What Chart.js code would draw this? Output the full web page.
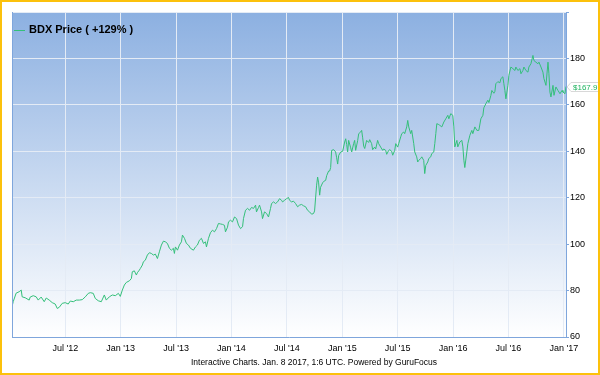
<!DOCTYPE html>
<html>
<head>
<meta charset="utf-8">
<script src="https://cdn.jsdelivr.net/npm/chart.js@4/dist/chart.umd.min.js"></script>
<style>
  html, body { margin: 0; padding: 0; background: #fff; }
  #wrap { position: relative; width: 600px; height: 375px; }
  #frame { position: absolute; left: 0; top: 0; width: 600px; height: 375px;
           box-sizing: border-box; border: 2px solid #fcc10c; pointer-events: none; }
</style>
</head>
<body>
<div id="wrap">
  <canvas id="chart" width="600" height="375"></canvas>
  <div id="frame"></div>
</div>
<script>
// months since Jan 1 2012
const months = [
  0.25, 0.36, 0.68, 1.01, 1.23, 1.33, 1.66, 2.09, 2.20, 2.53, 2.85, 3.07, 3.39, 3.72, 3.94, 4.26,
  4.59, 4.91, 5.13, 5.35, 5.67, 6.00, 6.32, 6.54, 6.87, 7.19, 7.52, 7.84, 8.17, 8.49, 8.71, 9.03,
  9.25, 9.58, 9.90, 10.23, 10.44, 10.77, 11.10, 11.42, 11.75, 11.96, 12.18, 12.40, 12.61, 12.94,
  13.16, 13.26, 13.48, 13.70, 13.81, 14.02, 14.13, 14.35, 14.46, 14.67, 14.89, 15.11, 15.32, 15.54,
  15.76, 15.98, 16.19, 16.41, 16.63, 16.84, 17.06, 17.28, 17.49, 17.71, 17.82, 17.93, 18.15, 18.36,
  18.58, 18.69, 18.91, 19.12, 19.34, 19.56, 19.88, 20.10, 20.31, 20.53, 20.75, 20.97, 21.18, 21.29,
  21.51, 21.72, 21.94, 22.16, 22.38, 22.59, 22.81, 23.03, 23.24, 23.35, 23.57, 23.68, 23.89, 24.11,
  24.33, 24.55, 24.76, 24.98, 25.20, 25.30, 25.52, 25.74, 25.96, 26.17, 26.39, 26.61, 26.71, 26.93,
  27.04, 27.26, 27.36, 27.58, 27.80, 28.01, 28.23, 28.34, 28.56, 28.77, 28.99, 29.21, 29.42, 29.53,
  29.75, 29.97, 30.18, 30.29, 30.51, 30.72, 30.94, 31.16, 31.37, 31.59, 31.81, 32.03, 32.24, 32.46,
  32.68, 32.89, 33.00, 33.22, 33.33, 33.44, 33.55, 33.65, 33.87, 33.98, 34.20, 34.31, 34.52, 34.63,
  34.74, 34.85, 35.07, 35.28, 35.39, 35.50, 35.61, 35.83, 36.04, 36.26, 36.37, 36.48, 36.58, 36.69,
  36.91, 37.02, 37.23, 37.34, 37.45, 37.67, 37.78, 37.99, 38.10, 38.21, 38.32, 38.43, 38.64, 38.86,
  38.97, 39.18, 39.29, 39.51, 39.62, 39.83, 39.94, 40.16, 40.38, 40.48, 40.70, 40.81, 41.03, 41.14,
  41.35, 41.46, 41.68, 41.79, 42.00, 42.11, 42.33, 42.44, 42.65, 42.76, 42.98, 43.09, 43.20, 43.41,
  43.52, 43.74, 43.85, 44.06, 44.17, 44.28, 44.50, 44.61, 44.82, 44.93, 45.04, 45.26, 45.37, 45.58,
  45.69, 45.91, 46.02, 46.13, 46.24, 46.45, 46.56, 46.78, 47.00, 47.21, 47.43, 47.54, 47.75, 47.97,
  48.08, 48.19, 48.41, 48.51, 48.73, 48.95, 49.06, 49.17, 49.27, 49.49, 49.60, 49.82, 50.03, 50.14,
  50.36, 50.58, 50.79, 51.01, 51.23, 51.33, 51.55, 51.77, 51.88, 52.09, 52.20, 52.42, 52.53, 52.63,
  52.85, 53.07, 53.18, 53.39, 53.50, 53.61, 53.72, 53.94, 54.04, 54.26, 54.48, 54.70, 54.80, 55.02,
  55.24, 55.35, 55.56, 55.67, 55.89, 56.11, 56.21, 56.43, 56.65, 56.76, 56.97, 57.19, 57.30, 57.52,
  57.73, 57.84, 58.06, 58.28, 58.38, 58.49, 58.60, 58.82, 58.93, 59.14, 59.36, 59.58, 59.80, 59.90,
  60.12, 60.23
];

// BDX close price, USD
const price = [
  73.3, 75.2, 78.9, 79.5, 80.2, 77.3, 76.9, 75.9, 77.2, 77.8, 77.3, 75.9, 77.2, 75.2, 76.8, 75.9,
  74.8, 74.2, 72.3, 72.8, 74.5, 74.8, 74.2, 75.5, 75.2, 75.9, 75.9, 76.1, 77.3, 78.8, 79.1, 78.8,
  76.6, 75.6, 75.2, 78.1, 75.9, 77.3, 78.1, 77.8, 78.8, 77.5, 80.2, 82.4, 83.5, 84.2,
  85.2, 88.1, 88.5, 86.7, 87.7, 88.8, 89.5, 91.0, 92.4, 93.1, 95.3, 96.3, 96.0, 95.3,
  95.7, 93.8, 96.7, 99.6, 101.3, 101.0, 100.3, 98.2, 97.4, 98.2, 96.0, 98.8, 97.4, 99.6,
  101.0, 103.9, 102.5, 100.3, 99.6, 98.2, 97.4, 98.8, 99.6, 101.7, 102.5, 100.3, 101.0, 98.8,
  102.5, 104.9, 106.0, 105.3, 106.7, 108.9, 108.7, 108.5, 108.1, 105.3, 107.3, 109.6, 110.3, 109.6,
  111.7, 111.0, 108.2, 106.7, 107.5, 111.0, 114.6, 115.4, 114.6, 115.8, 115.4, 116.8, 113.9, 115.8,
  116.8, 113.9, 111.0, 113.9, 113.2, 111.7, 115.4, 117.5, 118.2, 117.5, 118.2, 119.6, 118.9, 118.2,
  118.9, 119.6, 120.1, 118.9, 118.2, 118.5, 117.5, 116.1, 116.8, 117.1, 116.5, 116.1, 114.6, 113.9,
  112.9, 113.2, 114.3, 125.4, 128.9, 126.4, 121.1, 124.5, 126.4, 127.0, 127.5, 129.5, 131.5, 131.5,
  133.0, 140.4, 140.7, 139.7, 137.2, 134.5, 138.2, 139.7, 140.0, 144.0, 145.4, 142.9, 139.7, 144.7,
  141.5, 139.7, 143.3, 144.7, 140.4, 144.7, 147.6, 148.3, 149.0, 145.8, 142.2, 141.2, 144.7, 143.8,
  145.0, 143.3, 140.7, 141.8, 141.0, 144.7, 143.3, 141.8, 140.4, 141.0, 140.4, 138.7, 140.4, 140.7,
  140.0, 138.3, 140.4, 143.3, 141.8, 143.3, 146.2, 147.6, 148.3, 147.6, 150.5, 153.3, 150.5, 147.6,
  149.0, 143.3, 139.7, 137.6, 135.4, 136.1, 136.9, 137.6, 136.1, 130.4, 133.9, 135.4, 136.9, 137.6,
  139.0, 139.7, 143.3, 147.6, 151.9, 151.5, 151.2, 150.5, 152.6, 154.0, 155.5, 154.0, 156.2, 155.5,
  150.5, 141.9, 144.7, 141.9, 144.0, 144.7, 141.9, 136.1, 133.0, 139.7, 143.3, 146.9, 149.0, 147.6,
  150.5, 149.0, 149.0, 154.0, 155.5, 158.7, 160.5, 162.0, 161.0, 164.0, 166.2, 165.0, 165.8, 169.1,
  170.0, 169.5, 171.3, 172.1, 169.1, 166.2, 162.6, 168.4, 172.7, 176.3, 175.6, 174.8, 176.3, 174.8,
  175.6, 173.4, 174.8, 176.3, 174.8, 174.1, 176.3, 177.7, 181.3, 179.1, 178.4, 177.7, 178.4, 176.3,
  174.1, 171.3, 168.4, 178.4, 173.4, 165.5, 163.4, 168.4, 164.1, 167.7, 166.2, 164.8, 166.2, 165.5,
  164.8, 167.9
];

const tickMonths = [6, 12, 18, 24, 30, 36, 42, 48, 54, 60];
const tickLabels = ["Jul '12", "Jan '13", "Jul '13", "Jan '14", "Jul '14", "Jan '15", "Jul '15", "Jan '16", "Jul '16", "Jan '17"];
const seriesLabel = 'BDX Price ( +129% )';
const footerText = 'Interactive Charts. Jan. 8 2017, 1:6 UTC. Powered by GuruFocus';

const FONT = '"Liberation Sans", Arial, Helvetica, sans-serif';
const LINE = '#34c07a';
const AXIS = '#7fa6dc';
const GRID = '#e4ebf5';

// gradient behind the plot, left edge line, legend, last price tag, footer
const decor = {
  id: 'decor',
  beforeDraw(chart) {
    const { ctx, chartArea: a } = chart;
    const g = ctx.createLinearGradient(0, a.top, 0, a.bottom);
    g.addColorStop(0, '#8cb0e1');
    g.addColorStop(1, '#ffffff');
    ctx.save();
    ctx.fillStyle = g;
    ctx.fillRect(a.left, a.top, a.right - a.left, a.bottom - a.top);
    ctx.restore();
  },
  afterDraw(chart) {
    const { ctx, chartArea: a } = chart;
    ctx.save();
    // left border
    ctx.strokeStyle = AXIS;
    ctx.lineWidth = 1;
    ctx.beginPath();
    ctx.moveTo(a.left + 0.5, a.top);
    ctx.lineTo(a.left + 0.5, a.bottom);
    ctx.stroke();

    // legend
    ctx.strokeStyle = LINE;
    ctx.beginPath();
    ctx.moveTo(14, 30.5);
    ctx.lineTo(25, 30.5);
    ctx.stroke();
    ctx.fillStyle = '#000';
    ctx.font = 'bold 11px ' + FONT;
    ctx.textBaseline = 'middle';
    ctx.fillText(seriesLabel, 29, 30);

    // last price tag
    const last = price[price.length - 1];
    const y = Math.round(chart.scales.y.getPixelForValue(last));
    const txt = '$' + last.toFixed(1);
    ctx.font = '8px ' + FONT;
    const w = ctx.measureText(txt).width + 4;
    const x0 = a.right + 5;
    ctx.fillStyle = '#fff';
    ctx.strokeStyle = '#d8d8d8';
    ctx.beginPath();
    ctx.moveTo(a.right + 1, y);
    ctx.lineTo(x0, y - 4.5);
    ctx.lineTo(x0 + w, y - 4.5);
    ctx.lineTo(x0 + w, y + 4.5);
    ctx.lineTo(x0, y + 4.5);
    ctx.closePath();
    ctx.fill();
    ctx.stroke();
    ctx.fillStyle = '#1fb35f';
    ctx.fillText(txt, x0 + 2, y + 0.5);

    // footer
    ctx.fillStyle = '#000';
    ctx.font = '8.5px ' + FONT;
    ctx.textAlign = 'center';
    ctx.fillText(footerText, 314, 363);
    ctx.restore();
  }
};

new Chart(document.getElementById('chart'), {
  type: 'line',
  data: {
    datasets: [{
      label: seriesLabel,
      data: months.map((m, i) => ({ x: m, y: price[i] })),
      borderColor: LINE,
      borderWidth: 1,
      pointRadius: 0,
      tension: 0,
      fill: false
    }]
  },
  options: {
    responsive: false,
    animation: false,
    layout: { padding: { left: 12, top: 12, right: 0, bottom: 18 } },
    plugins: { legend: { display: false }, tooltip: { enabled: false } },
    scales: {
      x: {
        type: 'linear',
        min: 0.23,
        max: 60.23,
        afterBuildTicks: s => { s.ticks = tickMonths.map(v => ({ value: v })); },
        afterFit: s => { s.height = 20; },
        grid: { color: GRID, drawTicks: false },
        border: { color: AXIS },
        ticks: {
          padding: 6,
          maxRotation: 0,
          autoSkip: false,
          color: '#000',
          font: { family: FONT, size: 9 },
          callback: v => tickLabels[tickMonths.indexOf(v)]
        }
      },
      y: {
        position: 'right',
        min: 60,
        max: 200,
        afterFit: s => { s.width = 34; },
        grid: { color: GRID, tickColor: AXIS, tickLength: 3 },
        border: { color: AXIS },
        ticks: {
          stepSize: 20,
          padding: 1,
          color: '#000',
          font: { family: FONT, size: 9 },
          callback: v => (v >= 200 ? '' : v)
        }
      }
    }
  },
  plugins: [decor]
});
</script>
</body>
</html>
